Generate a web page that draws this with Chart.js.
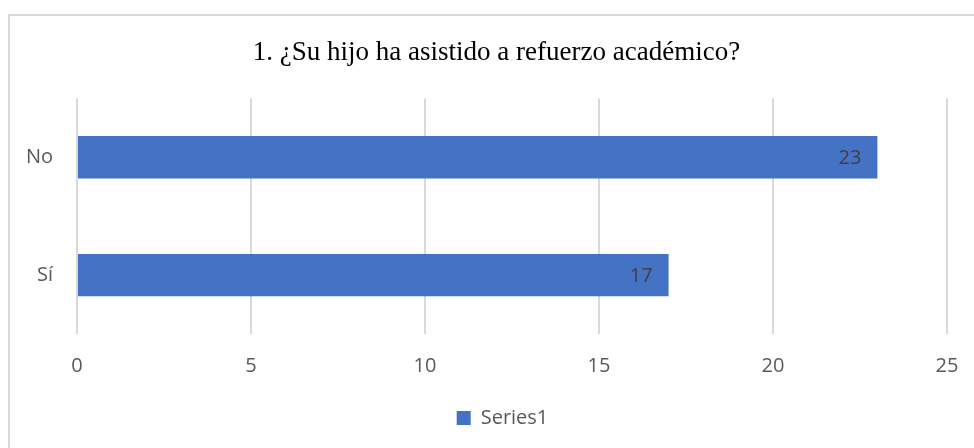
<!DOCTYPE html>
<html>
<head>
<meta charset="utf-8">
<script src="https://cdn.jsdelivr.net/npm/chart.js@4"></script>
<style>
    html, body { margin: 0; padding: 0; background: #fff; }
    #wrap { width: 974px; height: 448px; position: relative; }
</style>
</head>
<body>
<div id="wrap"><canvas id="chart"></canvas></div>
<script>
// --- Chart Data ---
const categories = ['No', 'Sí'];
const seriesValues = [23, 17];
const seriesName = 'Series1';
const xTicks = [0, 5, 10, 15, 20, 25];
const chartTitle = '1. ¿Su hijo ha asistido a refuerzo académico?';

const barBlue = '#4472C4';
const gridGrey = '#d9d9d9';
const labelGrey = '#595959';

// --- Plugins ---
const frameBorder = {
    id: 'frameBorder',
    beforeDraw(chart) {
        const ctx = chart.ctx;
        ctx.save();
        ctx.strokeStyle = gridGrey;
        ctx.lineWidth = 2;
        ctx.strokeRect(9, 15, 1200, 1200);
        ctx.restore();
    }
};

// title and legend are centred on the plot area in the original, not the canvas
const centreOnPlot = {
    id: 'centreOnPlot',
    afterLayout(chart) {
        chart.titleBlock.left += 23;
        chart.titleBlock.right += 23;
        chart.legend.left += 29;
        chart.legend.right += 29;
    }
};

const barValues = {
    id: 'barValues',
    afterDatasetsDraw(chart) {
        const ctx = chart.ctx;
        const meta = chart.getDatasetMeta(0);
        ctx.save();
        ctx.font = '20px "Open Sans"';
        ctx.fillStyle = '#404040';
        ctx.textAlign = 'right';
        ctx.textBaseline = 'middle';
        meta.data.forEach((bar, i) => {
            ctx.fillText(String(seriesValues[i]), bar.x - 16, bar.y + 1);
        });
        ctx.restore();
    }
};

// --- Chart ---
const ctx = document.getElementById('chart').getContext('2d');
new Chart(ctx, {
    type: 'bar',
    data: {
        labels: categories,
        datasets: [{
            label: seriesName,
            data: seriesValues,
            backgroundColor: barBlue,
            borderWidth: 0,
            categoryPercentage: 0.72,
            barPercentage: 0.5
        }]
    },
    options: {
        indexAxis: 'y',
        responsive: true,
        maintainAspectRatio: false,
        animation: false,
        layout: { padding: { left: 0, right: 27, top: 0, bottom: 10 } },
        plugins: {
            title: {
                display: true,
                text: chartTitle,
                color: '#000',
                font: { family: '"Liberation Serif"', size: 27, weight: 'normal' },
                padding: { top: 37, bottom: 29 }
            },
            legend: {
                position: 'bottom',
                labels: {
                    color: labelGrey,
                    font: { family: '"Open Sans"', size: 20 },
                    boxWidth: 14,
                    boxHeight: 14,
                    padding: 10
                }
            },
            tooltip: { enabled: false }
        },
        scales: {
            x: {
                min: 0,
                max: 25,
                afterBuildTicks: (s) => { s.ticks = xTicks.map(v => ({ value: v })); },
                afterFit: (s) => { s.height = 64; s.paddingLeft = 0; s.paddingRight = 0; },
                grid: { color: gridGrey, lineWidth: 2, drawTicks: false },
                border: { display: false },
                ticks: {
                    color: labelGrey,
                    font: { family: '"Open Sans"', size: 20 },
                    padding: 20
                }
            },
            y: {
                afterFit: (s) => { s.width = 77; },
                grid: { display: false, drawTicks: false },
                border: { display: false },
                ticks: {
                    color: labelGrey,
                    font: { family: '"Open Sans"', size: 20 },
                    padding: 24
                }
            }
        }
    },
    plugins: [frameBorder, centreOnPlot, barValues]
});
</script>
</body>
</html>
